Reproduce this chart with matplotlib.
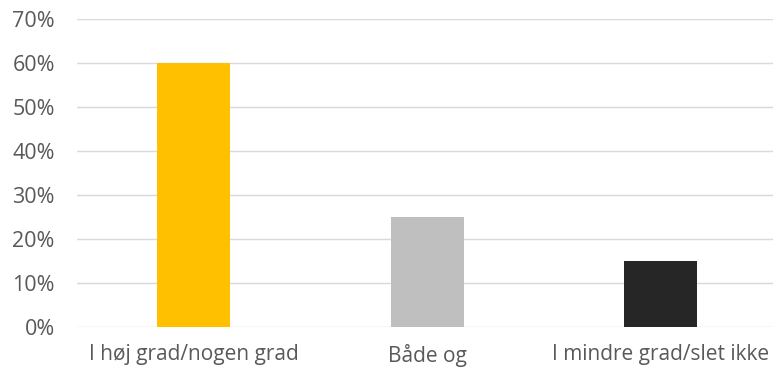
import matplotlib
matplotlib.use("Agg")
import matplotlib.pyplot as plt
from matplotlib.ticker import PercentFormatter

categories = ["I høj grad/nogen grad", "Både og", "I mindre grad/slet ikke"]
values = [60, 25, 15]
colors = ["#FFC000", "#BFBFBF", "#262626"]
y_ticks = [0, 10, 20, 30, 40, 50, 60, 70]

plt.rcParams["font.family"] = ["Open Sans", "DejaVu Sans"]

fig = plt.figure(figsize=(7.73, 3.70), dpi=100)
ax = fig.add_axes([0.0996, 0.1162, 0.9004, 0.8311])

x = range(len(categories))
ax.bar(x, values, width=0.313, color=colors, zorder=3)

ax.set_xlim(-0.5, 2.482)
ax.set_ylim(0, 70)
ax.set_yticks(y_ticks)
ax.yaxis.set_major_formatter(PercentFormatter(decimals=0))
ax.set_xticks(list(x))
ax.set_xticklabels(categories)

ax.grid(axis="y", color="#D9D9D9", linewidth=1.0, zorder=0)
ax.set_axisbelow(True)
for side in ["top", "right", "left", "bottom"]:
    ax.spines[side].set_visible(False)

ax.tick_params(axis="y", length=0, pad=16, labelsize=15.5, labelcolor="#595959")
ax.tick_params(axis="x", length=0, pad=12.5, labelsize=15, labelcolor="#595959")

fig.savefig("out.png", dpi=100)
